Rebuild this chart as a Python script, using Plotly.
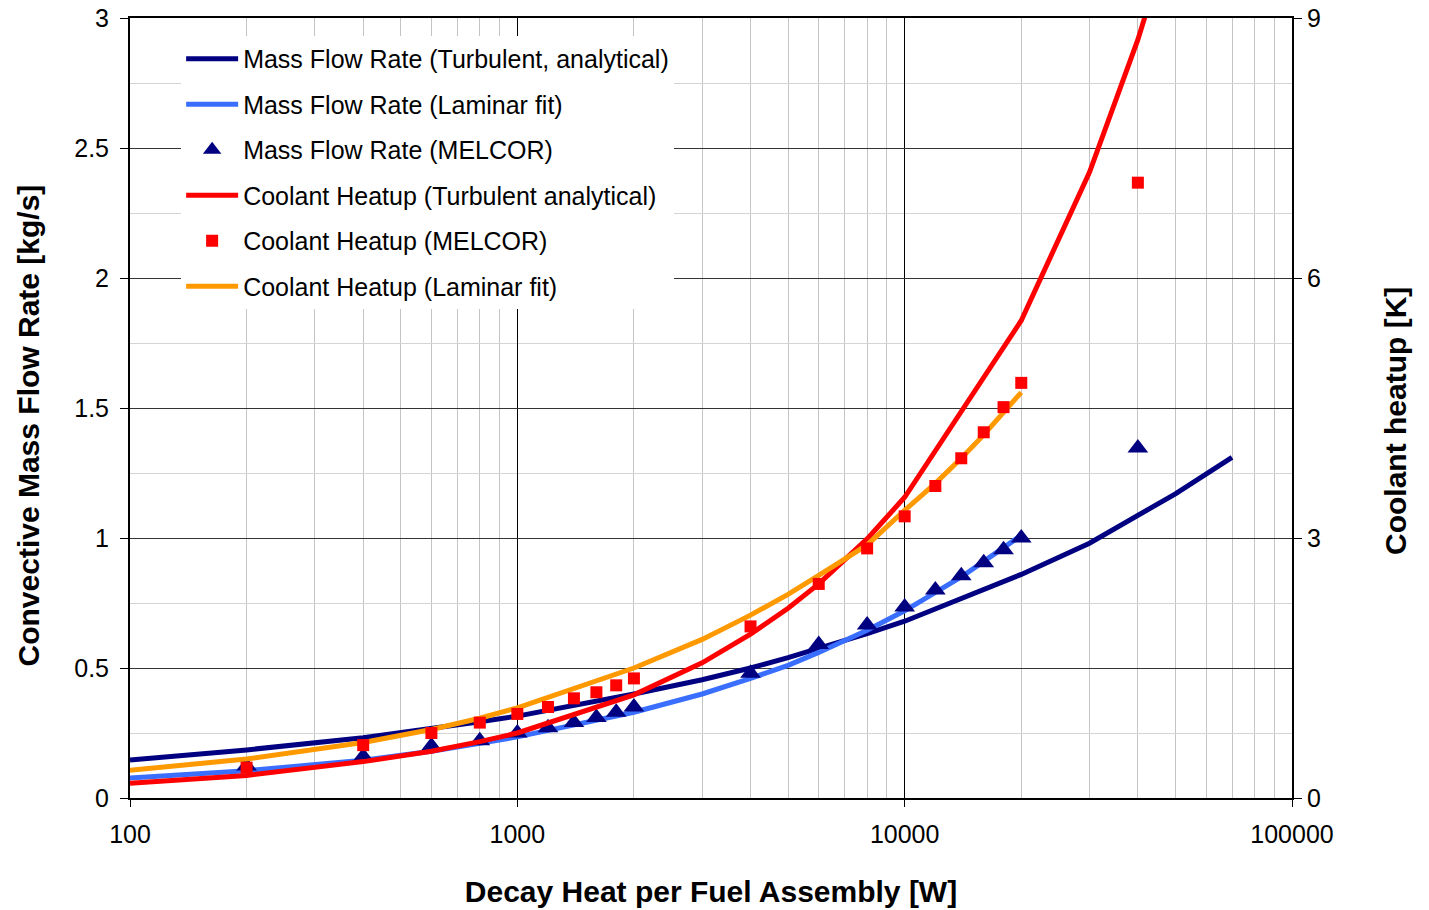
import plotly.graph_objects as go

# ---------------- data ----------------
q_turb = [100, 200, 400, 600, 800, 1000, 2000, 3000, 4000, 5000, 6000, 8000,
          10000, 20000, 30000, 40000, 50000, 70000]
mfr_turb = [0.146, 0.185, 0.232, 0.266, 0.293, 0.315, 0.40, 0.455, 0.50, 0.54,
            0.575, 0.632, 0.68, 0.86, 0.98, 1.085, 1.17, 1.31]
heat_turb = [0.17, 0.26, 0.42, 0.54, 0.65, 0.75, 1.19, 1.56, 1.89, 2.19,
             2.47, 2.99, 3.47, 5.51, 7.22, 8.75, 10.15, 12.7]

q_lam = [100, 200, 400, 600, 800, 1000, 2000, 3000, 4000, 5000, 6000, 8000,
         10000, 12000, 14000, 16000, 18000, 20000]
mfr_lam = [0.077, 0.105, 0.145, 0.18, 0.21, 0.235, 0.33, 0.40, 0.46, 0.51,
           0.56, 0.645, 0.72, 0.79, 0.85, 0.91, 0.96, 1.01]
heat_lam = [0.32, 0.45, 0.64, 0.79, 0.92, 1.04, 1.50, 1.83, 2.11, 2.35,
            2.57, 2.92, 3.32, 3.63, 3.92, 4.19, 4.45, 4.68]

q_mel = [200, 400, 600, 800, 1000, 1200, 1400, 1600, 1800, 2000, 4000, 6000,
         8000, 10000, 12000, 14000, 16000, 18000, 20000, 40000]
mfr_mel = [0.123, 0.16, 0.20, 0.22, 0.25, 0.27, 0.29, 0.31, 0.33, 0.35, 0.48,
           0.59, 0.665, 0.735, 0.80, 0.855, 0.905, 0.955, 1.0, 1.346]
heat_mel = [0.35, 0.61, 0.75, 0.87, 0.97, 1.05, 1.15, 1.22, 1.30, 1.38, 1.98,
            2.47, 2.88, 3.25, 3.60, 3.92, 4.22, 4.51, 4.79, 7.10]

x_ticks = [100, 1000, 10000, 100000]
x_minor = [k * 10 ** d for d in (2, 3, 4) for k in range(2, 10)]

x_title = "Decay Heat per Fuel Assembly [W]"
y_title = "Convective Mass Flow Rate [kg/s]"
y2_title = "Coolant heatup [K]"

NAVY = "#000080"
LBLUE = "#3A6EFF"
RED = "#FF0000"
ORANGE = "#FF9900"
FONT = "Liberation Sans, Arial, sans-serif"

fig = go.Figure()
fig.add_trace(go.Scatter(x=q_turb, y=mfr_turb, mode="lines",
                         name="Mass Flow Rate (Turbulent, analytical)",
                         line=dict(color=NAVY, width=5), legendrank=1, legendgroup="a"))
fig.add_trace(go.Scatter(x=q_lam, y=mfr_lam, mode="lines",
                         name="Mass Flow Rate (Laminar fit)",
                         line=dict(color=LBLUE, width=5), legendrank=2, legendgroup="b"))
fig.add_trace(go.Scatter(x=q_mel, y=mfr_mel, mode="markers",
                         name="Mass Flow Rate (MELCOR)",
                         marker=dict(symbol="triangle-up", color=NAVY, size=18),
                         legendrank=3, legendgroup="c"))
fig.add_trace(go.Scatter(x=q_turb, y=heat_turb, mode="lines", yaxis="y2",
                         name="Coolant Heatup (Turbulent analytical)",
                         line=dict(color=RED, width=5), legendrank=4, legendgroup="d"))
fig.add_trace(go.Scatter(x=q_lam, y=heat_lam, mode="lines", yaxis="y2",
                         name="Coolant Heatup (Laminar fit)",
                         line=dict(color=ORANGE, width=5), legendrank=6, legendgroup="f"))
fig.add_trace(go.Scatter(x=q_mel, y=heat_mel, mode="markers", yaxis="y2",
                         name="Coolant Heatup (MELCOR)",
                         marker=dict(symbol="square", color=RED, size=12),
                         legendrank=5, legendgroup="e"))

fig.update_layout(
    width=1429, height=910,
    margin=dict(l=130, r=137, t=18, b=112, autoexpand=False),
    paper_bgcolor="white", plot_bgcolor="white",
    font=dict(family=FONT, size=25, color="black"),
    showlegend=True,
    legend=dict(x=0.044, y=0.977, xanchor="left", yanchor="top",
                bgcolor="white", borderwidth=0,
                font=dict(family=FONT, size=25, color="black"),
                traceorder="grouped", tracegroupgap=10,
                itemwidth=52),
    xaxis=dict(type="log", range=[2, 5],
               tickmode="array", tickvals=x_ticks,
               ticktext=[str(v) for v in x_ticks],
               ticks="outside", ticklen=7, tickcolor="black", tickwidth=1,
               ticklabelstandoff=6,
               showgrid=True, gridcolor="black", gridwidth=1.3,
               minor=dict(tickmode="array", tickvals=x_minor, showgrid=True,
                          gridcolor="#c4c4c4", gridwidth=1, ticks=""),
               showline=True, linecolor="black", linewidth=2, mirror=True,
               zeroline=False, automargin=False,
               title=dict(text="<b>" + x_title + "</b>",
                          font=dict(family=FONT, size=30), standoff=34)),
    yaxis=dict(range=[0, 3], dtick=0.5, tick0=0,
               ticks="outside", ticklen=8, tickcolor="black", tickwidth=1,
               ticklabelstandoff=6,
               showgrid=True, gridcolor="#333333", gridwidth=1,
               minor=dict(dtick=0.25, showgrid=True, gridcolor="#d4d4d4",
                          gridwidth=1, ticks=""),
               showline=True, linecolor="black", linewidth=2,
               zeroline=False, automargin=False),
    yaxis2=dict(range=[0, 9], dtick=3, tick0=0, overlaying="y", side="right",
                ticks="outside", ticklen=8, tickcolor="black", tickwidth=1,
                showgrid=False, showline=True, linecolor="black", linewidth=2,
                zeroline=False, automargin=False),
    annotations=[
        dict(text="<b>" + y_title + "</b>", xref="paper", yref="paper",
             x=-0.0878, y=0.4776, xanchor="center", yanchor="middle",
             textangle=-90, showarrow=False,
             font=dict(family=FONT, size=30, color="black")),
        dict(text="<b>" + y2_title + "</b>", xref="paper", yref="paper",
             x=1.0886, y=0.4833, xanchor="center", yanchor="middle",
             textangle=-90, showarrow=False,
             font=dict(family=FONT, size=30, color="black")),
    ],
)

fig.write_html("out.html",
               config={"displayModeBar": False},
               post_script="document.body.style.margin='0';"
                           "document.body.style.overflow='hidden';")
